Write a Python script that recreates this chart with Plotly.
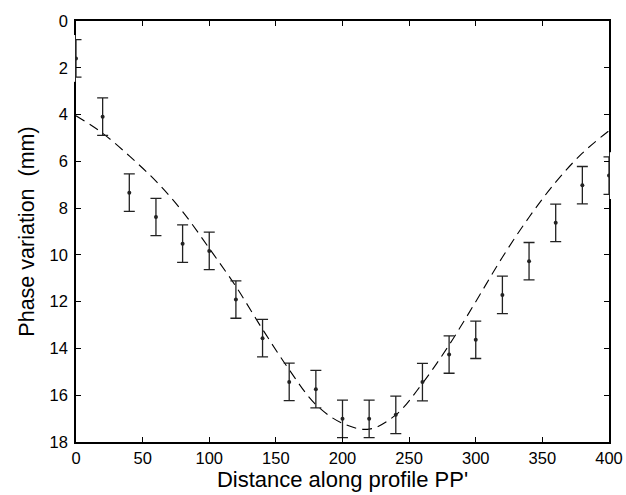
import plotly.graph_objects as go

# Measured points
dist = [0, 20, 40, 60, 80, 100, 120, 140, 160, 180, 200,
        220, 240, 260, 280, 300, 320, 340, 360, 380, 400]
phase = [1.6, 4.09, 7.34, 8.38, 9.52, 9.83, 11.91, 13.56, 15.43, 15.74, 17.01,
         17.01, 16.84, 15.44, 14.26, 13.63, 11.71, 10.27, 8.63, 7.02, 6.61]
err = [0.8] * len(dist)

# Dashed model curve
model_x = [0, 20, 40, 60, 80, 100, 120, 140, 160, 180, 200, 220,
           240, 260, 280, 300, 320, 340, 360, 380, 400]
model_y = [4.05, 4.8, 5.77, 6.85, 8.15, 9.72, 11.35, 13.18, 14.91, 16.4, 17.2, 17.45,
           16.84, 15.49, 13.85, 12.0, 10.1, 8.39, 6.89, 5.65, 4.69]

xticks = [0, 50, 100, 150, 200, 250, 300, 350, 400]
yticks = [0, 2, 4, 6, 8, 10, 12, 14, 16, 18]

font = "Liberation Sans, Arial, sans-serif"

fig = go.Figure()
fig.add_trace(go.Scatter(
    x=model_x, y=model_y, mode="lines",
    line=dict(color="black", width=1.1, dash="10px,6px", shape="spline"),
    showlegend=False, hoverinfo="skip"))
fig.add_trace(go.Scatter(
    x=dist, y=phase, mode="markers", cliponaxis=True,
    marker=dict(color="#222222", size=4),
    error_y=dict(type="data", array=err, visible=True, color="#222222",
                 thickness=1.3, width=5.5),
    showlegend=False))

axis_common = dict(showline=True, linecolor="black", linewidth=1.5, mirror="ticks",
                   ticks="inside", ticklen=5, tickcolor="black", tickwidth=1,
                   showgrid=False, zeroline=False, automargin=False,
                   tickfont=dict(family=font, size=16.5, color="black"))

fig.update_xaxes(range=[0, 400], tickvals=xticks,
                 title=dict(text="Distance along profile PP'",
                            font=dict(family=font, size=22, color="black"), standoff=6),
                 **axis_common)
fig.update_yaxes(range=[18, 0], tickvals=yticks, ticklabelstandoff=3,
                 title=dict(text="Phase variation  (mm)",
                            font=dict(family=font, size=21.5, color="black"), standoff=9),
                 **axis_common)

# white masks hiding the parts of edge error bars that fall outside the axes box
for (x0, x1, yc) in [(-6.5 / 533, -0.0016, phase[0]), (1.0016, 1 + 6.5 / 533, phase[-1])]:
    fig.add_shape(type="rect", xref="paper", yref="y", x0=x0, x1=x1,
                  y0=yc - 1.0, y1=yc + 1.0, fillcolor="white",
                  line=dict(width=0), layer="above")

fig.update_layout(width=626, height=495,
                  margin=dict(l=76, r=17, t=21, b=53),
                  plot_bgcolor="white", paper_bgcolor="white",
                  font=dict(family=font))

fig.write_html("out.html", config={"displayModeBar": False},
               post_script="document.body.style.margin='0';")
